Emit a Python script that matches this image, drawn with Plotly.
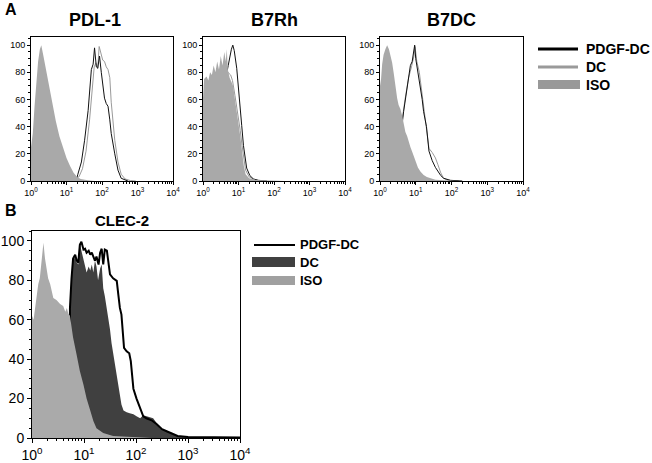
import numpy as np
import plotly.graph_objects as go

W, H = 652, 463
FONT = "Arial, 'Liberation Sans', sans-serif"

# ---- data (x read as decades of fluorescence, y = % of max) ----
# PDL-1
pdl1_iso_dec = [0.0, 0.05, 0.1, 0.15, 0.2, 0.25, 0.29, 0.35, 0.4, 0.5, 0.6, 0.7, 0.8, 0.9, 1.0, 1.1, 1.2, 1.3, 1.4, 1.6, 1.8]
pdl1_iso_val = [25, 35, 55, 72, 88, 97, 100, 92, 85, 70, 56, 44, 33, 25, 17, 11, 6, 3, 1.5, 0.5, 0]
pdl1_pdgf_dec = [1.1, 1.28, 1.32, 1.42, 1.51, 1.61, 1.70, 1.75, 1.79, 1.84, 1.88, 1.93, 1.98, 2.03, 2.07, 2.12, 2.17, 2.22, 2.26, 2.36, 2.45, 2.54, 2.73]
pdl1_pdgf_val = [0, 1, 5, 14, 30, 52, 82, 86, 98, 84, 83, 92, 80, 70, 61, 57, 55, 45, 35, 20, 8, 2, 0]
pdl1_dc_dec = [1.15, 1.35, 1.45, 1.55, 1.65, 1.72, 1.78, 1.83, 1.88, 1.92, 1.97, 2.02, 2.07, 2.12, 2.17, 2.22, 2.26, 2.31, 2.36, 2.45, 2.54, 2.65, 2.8, 2.95]
pdl1_dc_val = [0, 3, 9, 22, 45, 68, 84, 87, 83, 99, 94, 89, 88, 84, 82, 76, 58, 42, 30, 14, 5, 1.5, 0.3, 0]

# B7Rh
b7rh_iso_dec = [0.0, 0.03, 0.1, 0.15, 0.2, 0.25, 0.3, 0.35, 0.4, 0.45, 0.5, 0.55, 0.6, 0.64, 0.67, 0.7, 0.75, 0.8, 0.85, 0.9, 0.95, 1.0, 1.05, 1.1, 1.15, 1.2, 1.3, 1.5, 2.0, 2.3]
b7rh_iso_val = [61, 75, 77, 74, 80, 78, 85, 80, 88, 82, 92, 85, 95, 88, 97, 82, 76, 73, 70, 60, 52, 43, 33, 22, 11, 5, 2, 0.8, 0.3, 0]
b7rh_pdgf_dec = [0.5, 0.6, 0.71, 0.76, 0.8, 0.84, 0.88, 0.95, 1.0, 1.04, 1.09, 1.14, 1.18, 1.23, 1.32, 1.42, 1.56, 1.8]
b7rh_pdgf_val = [60, 70, 85, 93, 97, 100, 96, 83, 70, 58, 41, 26, 17, 9.5, 4, 1.5, 0.5, 0]
b7rh_dc_dec = [0.5, 0.7, 0.78, 0.83, 0.9, 0.95, 1.0, 1.05, 1.1, 1.15, 1.2, 1.3, 1.45, 1.6]
b7rh_dc_val = [60, 80, 78, 74, 63, 55, 46, 37, 26, 15, 8, 3, 1, 0]

# B7DC
b7dc_iso_dec = [0.0, 0.03, 0.06, 0.1, 0.15, 0.2, 0.25, 0.29, 0.34, 0.38, 0.43, 0.48, 0.52, 0.57, 0.62, 0.66, 0.71, 0.76, 0.8, 0.85, 0.9, 0.95, 0.99, 1.06, 1.13, 1.22, 1.31, 1.42, 1.55, 1.78, 2.0, 2.2]
b7dc_iso_val = [70, 75, 86, 93, 97, 100, 97, 93, 87, 80, 68, 61, 56, 53, 48, 42, 36, 33, 29, 25, 21.5, 18, 14, 10, 7, 4.5, 3, 2, 1, 0.5, 0.3, 0]
b7dc_pdgf_dec = [0.5, 0.62, 0.66, 0.71, 0.76, 0.8, 0.85, 0.9, 0.94, 0.97, 1.0, 1.03, 1.08, 1.13, 1.18, 1.22, 1.3, 1.37, 1.46, 1.55, 1.62, 1.7, 1.78, 1.97, 2.3]
b7dc_pdgf_val = [30, 42, 51, 60, 68, 78, 85, 88, 97.5, 100, 90, 85, 80, 71, 60, 51, 40, 22, 15, 10, 7, 4, 2, 0.5, 0]
b7dc_dc_dec = [0.5, 0.62, 0.7, 0.8, 0.88, 0.95, 0.98, 1.03, 1.1, 1.15, 1.22, 1.3, 1.37, 1.46, 1.55, 1.62, 1.7, 1.78, 1.9, 2.2]
b7dc_dc_val = [30, 45, 60, 76, 84, 92, 99, 88, 80, 70, 52, 38, 24, 21, 17, 12, 6, 2, 0.5, 0]

# CLEC-2
clec_iso_dec = [0.0, 0.03, 0.06, 0.09, 0.12, 0.15, 0.19, 0.22, 0.25, 0.28, 0.31, 0.35, 0.38, 0.41, 0.47, 0.54, 0.6, 0.64, 0.67, 0.7, 0.73, 0.76, 0.79, 0.86, 0.92, 0.99, 1.05, 1.12, 1.18, 1.24, 1.37, 1.56, 2.0, 2.3]
clec_iso_val = [62, 60, 66, 73, 78, 81, 90, 99, 91, 85, 81, 78, 75, 71, 70, 68, 67, 64, 66, 63, 62, 57, 51, 42, 34, 27, 20, 14, 8.6, 5, 2.5, 1, 0.3, 0]
clec_dc_dec = [0.72, 0.73, 0.76, 0.79, 0.83, 0.86, 0.89, 0.92, 0.95, 0.99, 1.02, 1.05, 1.09, 1.12, 1.15, 1.18, 1.21, 1.24, 1.27, 1.31, 1.34, 1.37, 1.40, 1.44, 1.47, 1.50, 1.53, 1.56, 1.60, 1.63, 1.66, 1.69, 1.72, 1.76, 1.82, 1.88, 1.95, 2.01, 2.08, 2.14, 2.2, 2.27, 2.33, 2.4, 2.46, 2.53, 2.59, 2.66, 2.72, 2.85, 3.0, 3.2, 3.4]
clec_dc_val = [0, 62, 82, 90, 92, 89, 88, 99, 95, 90, 86, 84, 87, 85, 88, 84, 90, 87, 80, 86, 88, 76, 72, 66, 60, 55, 48, 43, 36, 32, 26, 22, 17, 14, 13, 12.5, 12, 11, 10, 11.5, 11, 10.5, 10, 7.5, 5, 4, 3.5, 2.5, 1.7, 0.8, 0.4, 0.2, 0]
clec_pdgf_dec = [0.72, 0.73, 0.76, 0.79, 0.83, 0.86, 0.89, 0.92, 0.95, 0.99, 1.02, 1.05, 1.09, 1.12, 1.15, 1.18, 1.21, 1.24, 1.28, 1.31, 1.34, 1.37, 1.40, 1.44, 1.47, 1.5, 1.56, 1.63, 1.66, 1.69, 1.72, 1.76, 1.77, 1.82, 1.87, 1.9, 1.93, 1.95, 2.01, 2.08, 2.14, 2.2, 2.3, 2.4, 2.5, 2.6, 2.7, 2.8, 3.0, 3.5, 4.0]
clec_pdgf_val = [0, 66, 81, 91, 93, 90, 89, 98, 99.5, 95.6, 96, 94, 95, 93, 94, 92, 90, 92, 88, 94, 96, 88, 95.6, 95, 88, 83, 81, 79.7, 72.7, 66, 62.6, 49, 45.7, 44, 43, 39, 30.5, 25, 20, 15, 11, 10, 9, 7, 4.5, 3.3, 2, 1, 0.5, 0.2, 0.2]

tick_vals = [1, 10, 100, 1000, 10000]
tick_text = ["10<sup>0</sup>", "10<sup>1</sup>", "10<sup>2</sup>", "10<sup>3</sup>", "10<sup>4</sup>"]
y_ticks = [0, 20, 40, 60, 80, 100]

ISO_A = "#a9a9a9"
DC_A = "#9a9a9a"
DC_B = "#404040"
ISO_B = "#aaaaaa"


# positions below are screen pixels of the 652x463 page
def px(x):
    return x / W


def py(y):
    return 1 - y / H


def xs(dec):
    return np.power(10.0, np.array(dec))


minor_x = [m * 10 ** d for d in range(4) for m in range(2, 10)]

fig = go.Figure()


def add_line(dec, val, color, width, ax):
    fig.add_trace(go.Scatter(x=xs(dec), y=val, mode="lines",
                             line=dict(color=color, width=width),
                             xaxis="x" + ax, yaxis="y" + ax,
                             showlegend=False, hoverinfo="skip"))


def add_fill(dec, val, color, ax):
    fig.add_trace(go.Scatter(x=xs(dec), y=val, mode="lines",
                             line=dict(color=color, width=0),
                             fill="tozeroy", fillcolor=color,
                             xaxis="x" + ax, yaxis="y" + ax,
                             showlegend=False, hoverinfo="skip"))


# panel A: lines under the isotype fill
for ax, (pd_d, pd_v, dc_d, dc_v, iso_d, iso_v) in {
    "": (pdl1_pdgf_dec, pdl1_pdgf_val, pdl1_dc_dec, pdl1_dc_val, pdl1_iso_dec, pdl1_iso_val),
    "2": (b7rh_pdgf_dec, b7rh_pdgf_val, b7rh_dc_dec, b7rh_dc_val, b7rh_iso_dec, b7rh_iso_val),
    "3": (b7dc_pdgf_dec, b7dc_pdgf_val, b7dc_dc_dec, b7dc_dc_val, b7dc_iso_dec, b7dc_iso_val),
}.items():
    add_line(dc_d, dc_v, DC_A, 1, ax)
    add_line(pd_d, pd_v, "#111111", 1, ax)
    add_fill(iso_d, iso_v, ISO_A, ax)

# panel B
add_fill(clec_dc_dec, clec_dc_val, DC_B, "4")
add_line(clec_pdgf_dec, clec_pdgf_val, "black", 2, "4")
add_fill(clec_iso_dec, clec_iso_val, ISO_B, "4")


def xaxis(left, right, anchor, size, tl):
    return dict(type="log", range=[0, 4], domain=[px(left), px(right)], anchor=anchor,
                automargin=False,
                tickvals=tick_vals, ticktext=tick_text, ticks="outside", ticklen=tl,
                tickcolor="black", tickwidth=1,
                minor=dict(tickvals=minor_x, ticks="outside", ticklen=2, tickcolor="black"),
                showline=True, linecolor="black", linewidth=1, mirror=True,
                showgrid=False, zeroline=False,
                tickfont=dict(family=FONT, size=size, color="black"))


def yaxis(top, bottom, anchor, top_val, size, tl):
    return dict(range=[0, top_val], domain=[py(bottom), py(top)], anchor=anchor,
                automargin=False,
                tickvals=y_ticks, ticks="outside", ticklen=tl, tickcolor="black", tickwidth=1,
                minor=dict(dtick=5, ticks="outside", ticklen=2, tickcolor="black"),
                showline=True, linecolor="black", linewidth=1, mirror=True,
                showgrid=False, zeroline=False,
                tickfont=dict(family=FONT, size=size, color="black"))


anns = []
shapes = []


def text(x, y, s, size, bold=True, xanchor="center"):
    anns.append(dict(x=px(x), y=py(y), xref="paper", yref="paper", text=("<b>%s</b>" % s) if bold else s,
                     showarrow=False, xanchor=xanchor, yanchor="middle",
                     font=dict(family=FONT, size=size, color="black")))


text(3, 9, "A", 16, xanchor="left")
text(3, 210, "B", 16, xanchor="left")
text(95, 20, "PDL-1", 18)
text(274, 20, "B7Rh", 18)
text(451, 20, "B7DC", 18)
text(122, 220, "CLEC-2", 15)

# legend A
shapes.append(dict(type="line", xref="paper", yref="paper", x0=px(538), x1=px(578), y0=py(49), y1=py(49),
                   line=dict(color="black", width=3)))
shapes.append(dict(type="line", xref="paper", yref="paper", x0=px(538), x1=px(578), y0=py(67), y1=py(67),
                   line=dict(color=DC_A, width=3)))
shapes.append(dict(type="rect", xref="paper", yref="paper", x0=px(538), x1=px(580), y0=py(89), y1=py(80),
                   line=dict(width=0), fillcolor="#999999"))
text(584, 49, "PDGF-DC", 14, xanchor="left")
text(584, 67, "DC", 14, xanchor="left")
text(584, 85, "ISO", 14, xanchor="left")

# legend B
shapes.append(dict(type="line", xref="paper", yref="paper", x0=px(254), x1=px(295), y0=py(245), y1=py(245),
                   line=dict(color="black", width=2)))
shapes.append(dict(type="rect", xref="paper", yref="paper", x0=px(252), x1=px(295), y0=py(267), y1=py(257),
                   line=dict(width=0), fillcolor=DC_B))
shapes.append(dict(type="rect", xref="paper", yref="paper", x0=px(252), x1=px(295), y0=py(285), y1=py(276),
                   line=dict(width=0), fillcolor="#a0a0a0"))
text(298, 244, "PDGF-DC", 13, xanchor="left")
text(298, 262, "DC", 13, xanchor="left")
text(298, 280, "ISO", 13, xanchor="left")

fig.update_layout(
    width=W, height=H, margin=dict(l=0, r=0, t=0, b=0),
    paper_bgcolor="white", plot_bgcolor="white", showlegend=False,
    xaxis=xaxis(31, 173, "y", 9, 3), yaxis=yaxis(37, 181, "x", 106, 9, 3),
    xaxis2=xaxis(203, 345, "y2", 9, 3), yaxis2=yaxis(37, 181, "x2", 106, 9, 3),
    xaxis3=xaxis(380, 523, "y3", 9, 3), yaxis3=yaxis(37, 181, "x3", 106, 9, 3),
    xaxis4=xaxis(32, 240, "y4", 14, 4), yaxis4=yaxis(231, 438, "x4", 105, 14, 4),
    annotations=anns, shapes=shapes,
)

# drop the page's default body margin so the figure sits at the window corner
fig.write_html("out.html", config={"displayModeBar": False},
               post_script="document.body.style.margin='0px';")
